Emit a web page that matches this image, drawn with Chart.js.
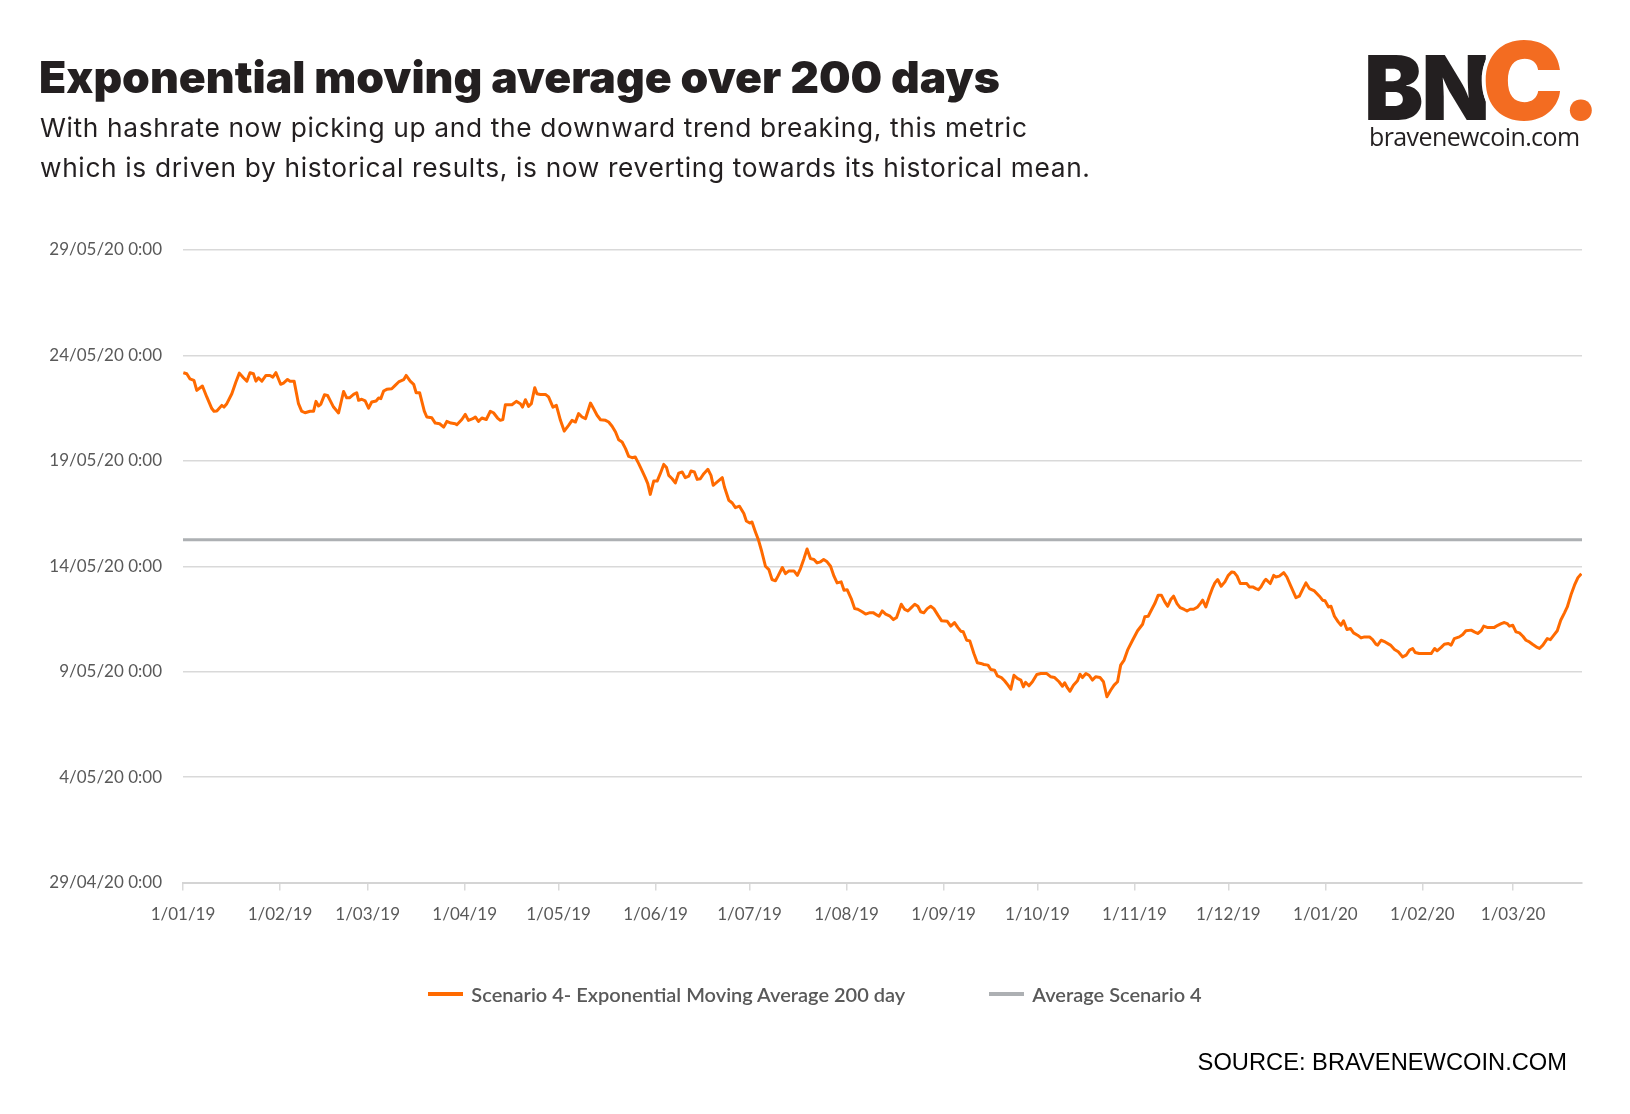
<!DOCTYPE html>
<html>
<head>
<meta charset="utf-8">
<script src="https://cdn.jsdelivr.net/npm/chart.js@4.4.1/dist/chart.umd.min.js"></script>
<style>
  body { margin: 0; background: #fff; }
  #page { position: relative; width: 1630px; height: 1114px; overflow: hidden; background: #fff; }
  #emaChart { position: absolute; left: 0; top: 0; }
  .txt { position: absolute; white-space: nowrap; color: #231F20; }
  #title { left: 39px; top: 55px; font: 900 44.5px/1 Inter, sans-serif; }
  #subtitle { left: 40px; top: 108px; font: 400 26.3px/40px Inter, sans-serif; letter-spacing: 0.65px; }
  #logoBN { left: 1364px; top: 43px; font: 900 89px/1 Inter, sans-serif; letter-spacing: -2px; }
  #logoC { left: 1482px; top: 26px; font: 900 109px/1 Inter, sans-serif; color: #F36C21; letter-spacing: -3px;
    text-shadow: -4px 0 #fff, 4px 0 #fff, 0 -4px #fff, 0 4px #fff, -3px -3px #fff, 3px 3px #fff, -3px 3px #fff, 3px -3px #fff; }
  #logoUrl { left: 1369px; top: 124px; font: 400 25px/1 "Open Sans", sans-serif; letter-spacing: -0.6px; }
  #source { right: 63px; top: 1051px; font: 400 23.7px/1 "Liberation Sans", Arial, sans-serif; color: #000; }
  #legend { position: absolute; left: 0; top: 982px; width: 1630px; height: 24px; display: flex;
    justify-content: center; align-items: center; gap: 84px; font: 600 20px Lato, sans-serif; color: #595959; }
  #legend .item { display: flex; align-items: center; }
  #legend .swatch { width: 35px; height: 4px; margin-right: 8px; }
</style>
</head>
<body>
<div id="page">
  <canvas id="emaChart" width="1630" height="1114"></canvas>
  <div class="txt" id="title">Exponential moving average over 200 days</div>
  <div class="txt" id="subtitle">With hashrate now picking up and the downward trend breaking, this metric<br>which is driven by historical results, is now reverting towards its historical mean.</div>
  <div class="txt" id="logoBN">BN</div>
  <div class="txt" id="logoC">C.</div>
  <div class="txt" id="logoUrl">bravenewcoin.com</div>
  <div id="legend"></div>
  <div class="txt" id="source">SOURCE: BRAVENEWCOIN.COM</div>
</div>
<script>
// x = days since 1/01/19, y = days after 29/04/20 0:00 (the metric is plotted as a date)
const monthLabels = ['1/01/19', '1/02/19', '1/03/19', '1/04/19', '1/05/19', '1/06/19', '1/07/19', '1/08/19',
  '1/09/19', '1/10/19', '1/11/19', '1/12/19', '1/01/20', '1/02/20', '1/03/20'];
const yTickLabels = ['29/04/20 0:00', '4/05/20 0:00', '9/05/20 0:00', '14/05/20 0:00', '19/05/20 0:00',
  '24/05/20 0:00', '29/05/20 0:00'];
const lastDay = 447;

const seriesNames = ['Scenario 4- Exponential Moving Average 200 day', 'Average Scenario 4'];
const averageScenario4 = 16.26;

// [day, value]
const emaPoints = [
  [0.1,24.18],[1.2,24.13],[2.2,23.89],[3.5,23.82],[4.4,23.34],[6.2,23.55],[7.6,23.03],[9.2,22.48],[9.9,22.35],[10.8,22.36],
  [12.4,22.63],[13.1,22.55],[14.0,22.71],[15.6,23.18],[16.9,23.74],[18.0,24.16],[19.3,23.94],[20.4,23.78],[21.4,24.18],[22.5,24.13],
  [23.3,23.78],[24.1,23.94],[25.2,23.78],[26.5,24.05],[27.8,24.05],[28.7,23.97],[29.7,24.18],[31.2,23.63],[32.1,23.69],[33.4,23.86],
  [34.2,23.78],[35.5,23.78],[36.9,22.71],[37.9,22.36],[39.0,22.28],[40.6,22.35],[41.7,22.35],[42.5,22.82],[43.3,22.60],[44.0,22.68],
  [45.2,23.13],[46.2,23.10],[47.0,22.87],[48.1,22.55],[49.7,22.27],[51.3,23.29],[52.3,22.99],[53.2,22.99],[54.5,23.15],[55.5,23.23],
  [56.1,22.87],[57.1,22.92],[58.2,22.84],[59.3,22.50],[60.3,22.79],[61.7,22.84],[62.5,22.98],[63.2,22.95],[64.1,23.31],[65.1,23.39],
  [66.7,23.42],[67.8,23.58],[68.9,23.74],[70.5,23.85],[71.3,24.05],[72.6,23.78],[73.7,23.63],[74.5,23.23],[75.6,23.23],[77.1,22.36],
  [77.9,22.08],[79.5,22.04],[80.6,21.79],[82.0,21.76],[83.3,21.60],[84.3,21.87],[85.6,21.79],[87.0,21.76],[87.5,21.71],[89.1,21.96],
  [90.2,22.20],[91.2,21.92],[92.6,22.00],[93.4,22.08],[94.4,21.87],[95.5,22.03],[96.9,21.96],[98.2,22.35],[99.2,22.28],[100.5,22.03],
  [101.4,21.92],[102.2,21.96],[103.0,22.66],[105.1,22.66],[106.5,22.82],[107.8,22.71],[108.5,22.55],[109.4,22.90],[110.4,22.58],[111.3,22.71],
  [112.4,23.47],[113.1,23.18],[114.2,23.15],[115.8,23.15],[116.8,23.03],[118.2,22.55],[119.3,22.63],[120.6,21.92],[121.8,21.41],[123.2,21.68],
  [124.3,21.92],[125.4,21.84],[126.4,22.24],[127.5,22.08],[128.6,22.00],[130.2,22.74],[131.2,22.47],[132.3,22.16],[133.4,21.95],[135.0,21.92],
  [136.0,21.84],[137.1,21.64],[138.2,21.37],[139.2,21.00],[140.3,20.89],[141.4,20.58],[142.4,20.21],[143.5,20.15],[144.5,20.18],[145.6,19.87],
  [146.7,19.52],[147.7,19.20],[148.5,18.92],[149.3,18.41],[150.4,19.04],[151.5,19.04],[152.5,19.39],[153.6,19.83],[154.5,19.68],[155.2,19.31],
  [156.3,19.15],[157.3,18.95],[158.4,19.42],[159.5,19.47],[160.5,19.20],[161.6,19.27],[162.3,19.52],[163.4,19.47],[164.3,19.12],[165.3,19.15],
  [166.4,19.39],[167.7,19.60],[168.7,19.31],[169.4,18.84],[170.7,19.00],[172.3,19.20],[173.0,18.76],[174.4,18.13],[175.5,18.00],[176.5,17.78],
  [177.8,17.85],[179.2,17.50],[180.0,17.15],[181.1,17.05],[181.8,17.10],[182.9,16.63],[183.9,16.23],[184.8,15.76],[186.1,15.00],[187.2,14.84],
  [188.2,14.37],[189.3,14.31],[190.1,14.53],[191.5,14.94],[192.5,14.65],[193.6,14.78],[195.2,14.78],[196.3,14.57],[197.3,14.89],[198.4,15.36],
  [199.4,15.82],[200.5,15.36],[201.6,15.32],[202.6,15.16],[203.7,15.21],[204.7,15.32],[205.8,15.21],[206.9,15.00],[208.0,14.53],[209.0,14.21],
  [210.3,14.26],[211.2,13.86],[212.2,13.89],[213.5,13.47],[214.6,12.99],[215.6,12.96],[217.0,12.84],[218.1,12.73],[219.5,12.80],[220.5,12.80],
  [221.8,12.68],[222.4,12.63],[223.4,12.88],[224.5,12.73],[225.9,12.63],[227.0,12.47],[228.0,12.57],[229.5,13.20],[230.6,12.95],[231.6,12.88],
  [232.7,13.04],[233.8,13.20],[234.8,13.10],[235.7,12.84],[236.7,12.79],[237.8,12.99],[238.9,13.10],[239.9,12.99],[241.2,12.68],[242.4,12.41],
  [244.2,12.39],[245.3,12.16],[246.5,12.33],[247.6,12.09],[248.5,11.92],[249.3,11.89],[250.4,11.49],[251.4,11.46],[252.7,10.86],[253.8,10.42],
  [254.9,10.39],[255.9,10.34],[257.2,10.31],[258.1,10.10],[259.3,10.07],[260.2,9.80],[261.5,9.72],[262.5,9.57],[263.6,9.36],[264.5,9.17],
  [265.5,9.83],[266.6,9.68],[267.7,9.60],[268.5,9.28],[269.2,9.49],[270.3,9.33],[271.4,9.52],[272.8,9.87],[274.1,9.91],[276.0,9.91],
  [277.2,9.76],[278.5,9.72],[279.9,9.52],[281.0,9.31],[281.7,9.47],[282.6,9.23],[283.4,9.07],[284.5,9.36],[285.8,9.57],[286.6,9.88],
  [287.4,9.72],[288.5,9.91],[289.5,9.83],[290.6,9.60],[291.6,9.76],[293.0,9.72],[294.1,9.52],[295.2,8.81],[296.4,9.12],[297.5,9.36],
  [298.6,9.52],[299.6,10.31],[300.7,10.55],[301.8,11.02],[303.4,11.49],[305.0,11.94],[306.6,12.25],[307.3,12.60],[308.4,12.63],[309.5,12.95],
  [310.5,13.23],[311.6,13.63],[312.6,13.63],[313.7,13.31],[314.6,13.10],[315.6,13.42],[316.5,13.58],[317.6,13.23],[318.6,13.04],[319.9,12.95],
  [320.8,12.88],[321.8,12.96],[322.9,12.96],[324.2,13.07],[325.2,13.26],[325.8,13.39],[326.8,13.07],[327.9,13.55],[329.0,13.99],[329.7,14.21],
  [330.6,14.37],[331.7,14.05],[332.9,14.26],[334.0,14.57],[335.1,14.73],[335.9,14.70],[336.8,14.53],[337.8,14.18],[339.1,14.18],[339.9,14.18],
  [340.7,14.02],[341.8,14.02],[342.8,13.94],[343.6,13.89],[344.4,14.02],[345.5,14.30],[346.0,14.38],[347.4,14.18],[348.5,14.57],[349.2,14.49],
  [350.3,14.53],[351.7,14.70],[352.7,14.49],[354.0,14.05],[355.6,13.51],[356.7,13.58],[357.7,13.89],[358.8,14.21],[359.9,13.94],[361.5,13.83],
  [363.1,13.58],[364.1,13.39],[364.9,13.36],[366.0,13.07],[366.8,13.10],[367.9,12.63],[369.1,12.36],[370.0,12.20],[370.8,12.41],[371.9,12.00],
  [373.0,12.05],[374.0,11.84],[375.3,11.73],[376.4,11.60],[377.5,11.65],[379.1,11.65],[380.1,11.52],[381.2,11.29],[381.7,11.26],[382.8,11.49],
  [384.1,11.41],[385.8,11.26],[387.1,11.05],[388.3,10.94],[389.7,10.70],[390.8,10.78],[391.9,11.02],[392.9,11.10],[393.7,10.91],[395.0,10.86],
  [396.7,10.86],[398.8,10.86],[399.9,11.10],[400.7,10.99],[402.0,11.15],[403.0,11.30],[404.3,11.34],[405.2,11.26],[406.2,11.57],[407.8,11.65],
  [408.9,11.76],[409.9,11.94],[411.6,11.97],[412.6,11.89],[413.7,11.81],[414.8,11.94],[415.6,12.16],[416.7,12.10],[419.0,12.10],[420.1,12.20],
  [421.2,12.28],[422.2,12.33],[423.1,12.28],[423.8,12.16],[424.9,12.20],[425.9,11.89],[427.0,11.84],[428.1,11.68],[429.1,11.49],[430.2,11.41],
  [431.3,11.29],[432.7,11.15],[433.4,11.10],[434.5,11.26],[435.9,11.57],[436.9,11.52],[438.0,11.73],[439.1,11.94],[440.2,12.44],[441.4,12.79],
  [442.3,13.07],[443.6,13.70],[444.6,14.10],[445.7,14.46],[446.8,14.65]
];

// day number of each month label, counted from 1/01/19
function dayOf(label) {
  const [d, m, y] = label.split('/').map(Number);
  return Math.round((Date.UTC(2000 + y, m - 1, d) - Date.UTC(2019, 0, 1)) / 86400000);
}
const monthDays = monthLabels.map(dayOf);

const orange = '#FF6A00';
const grey = '#ADB0B3';
const tickFont = { family: 'Lato', size: 17 };

const ctx = document.getElementById('emaChart').getContext('2d');
const emaChart = new Chart(ctx, {
  type: 'line',
  data: {
    datasets: [{
      label: seriesNames[0],
      data: emaPoints.map(p => ({ x: p[0], y: p[1] })),
      borderColor: orange,
      backgroundColor: orange,
      borderWidth: 3,
      borderJoinStyle: 'round',
      pointRadius: 0,
      tension: 0
    }, {
      label: seriesNames[1],
      data: [{ x: 0, y: averageScenario4 }, { x: lastDay, y: averageScenario4 }],
      borderColor: grey,
      backgroundColor: grey,
      borderWidth: 3,
      pointRadius: 0
    }]
  },
  options: {
    responsive: false,
    animation: false,
    devicePixelRatio: 1,
    layout: { padding: { top: 250, left: 0, right: 48, bottom: 189.5 } },
    scales: {
      x: {
        type: 'linear',
        min: 0,
        max: lastDay,
        afterBuildTicks: scale => { scale.ticks = monthDays.map(v => ({ value: v })); },
        afterFit: scale => { scale.height = 42; },
        ticks: {
          callback: (value, index) => monthLabels[index],
          font: tickFont,
          color: '#595959',
          padding: 14,
          maxRotation: 0,
          autoSkip: false
        },
        grid: { drawOnChartArea: false, drawTicks: true, tickLength: 8, color: '#d9d9d9', lineWidth: 1.5 },
        border: { display: true, color: '#d4d4d4', width: 2 }
      },
      y: {
        min: 0,
        max: 30,
        afterFit: scale => { scale.width = 183; },
        ticks: {
          stepSize: 5,
          callback: (value, index) => yTickLabels[index],
          font: tickFont,
          color: '#595959',
          padding: 21
        },
        grid: { drawTicks: false, color: '#d9d9d9', lineWidth: 1.5 },
        border: { display: false }
      }
    },
    plugins: {
      tooltip: { enabled: false },
      legend: { display: false }
    }
  }
});

// legend built from the chart's datasets
const legendEl = document.getElementById('legend');
emaChart.data.datasets.forEach(ds => {
  const item = document.createElement('div');
  item.className = 'item';
  const swatch = document.createElement('span');
  swatch.className = 'swatch';
  swatch.style.background = ds.borderColor;
  const label = document.createElement('span');
  label.textContent = ds.label;
  item.appendChild(swatch);
  item.appendChild(label);
  legendEl.appendChild(item);
});
</script>
</body>
</html>
